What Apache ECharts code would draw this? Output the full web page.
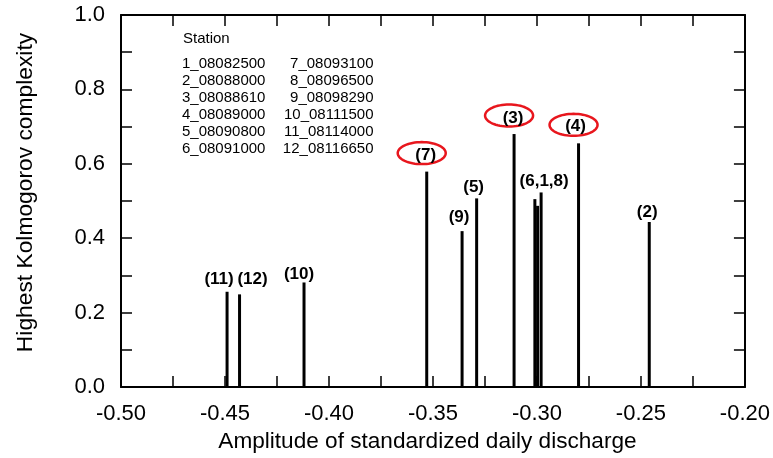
<!DOCTYPE html>
<html>
<head>
<meta charset="utf-8">
<script src="https://cdn.jsdelivr.net/npm/echarts@6/dist/echarts.min.js"></script>
<style>html,body{margin:0;padding:0;background:#fff;}#c{width:773px;height:458px;}</style>
</head>
<body>
<div id="c"></div>
<script>
// ---- data ----
const stations = ['1','2','3','4','5','6','7','8','9','10','11','12'];
const stationIds = ['08082500','08088000','08088610','08089000','08090800','08091000','08093100','08096500','08098290','08111500','08114000','08116650'];
const amplitude = [-0.2997,-0.246,-0.311,-0.280,-0.329,-0.301,-0.353,-0.298,-0.336,-0.412,-0.449,-0.443];
const complexity = [0.487,0.4435,0.680,0.655,0.507,0.505,0.579,0.523,0.419,0.281,0.256,0.249];
const barLabels = ['','(2)','(3)','(4)','(5)','','(7)','(6,1,8)','(9)','(10)','(11)','(12)'];
const circled = ['3','4','7'];
const xRange = {min:-0.5, max:-0.2, interval:0.05};
const yRange = {min:0, max:1, interval:0.2};
const xTitle = 'Amplitude of standardized daily discharge';
const yTitle = 'Highest Kolmogorov complexity';
const legendTitle = 'Station';

// ---- styles ----
const FONT = '"Liberation Sans", Arial, sans-serif';
const labelNudge = {'2':[-2,4],'3':[-1,-2],'4':[-3,-4],'5':[-3,2],'7':[-1,-3],'8':[3,2],'9':[-3,0],'10':[-5,5],'11':[-8,1],'12':[13,-2]};

const chart = echarts.init(document.getElementById('c'), null, {renderer:'canvas'});

const barData = stations.map((s,i) => {
  const txt = barLabels[i];
  return {
    value:[amplitude[i], complexity[i]],
    label:{show: txt !== '', formatter: txt, offset: labelNudge[s] || [0,0]}
  };
});
const ringData = circled.map(s => { const i = stations.indexOf(s); return [amplitude[i], complexity[i]]; });

const col1 = stations.slice(0,6).map((s,i)=> s + '_' + stationIds[i]).join('\n');
const col2 = stations.slice(6).map((s,i)=> s + '_' + stationIds[i+6]).join('\n');

const tickCommon = {show:true, inside:true, length:11, lineStyle:{color:'#000', width:1.5}};
const minorCommon = {show:true, splitNumber:2, length:11, lineStyle:{color:'#000', width:1.5}};
const lineCommon = {show:true, onZero:false, lineStyle:{color:'#000', width:2}};

chart.setOption({
  animation:false,
  backgroundColor:'#fff',
  grid:{left:121, right:27, top:15, bottom:71, containLabel:false},
  xAxis:[{
    type:'value', position:'bottom', min:xRange.min, max:xRange.max, interval:xRange.interval,
    axisLine:lineCommon, axisTick:tickCommon, minorTick:minorCommon, splitLine:{show:false},
    axisLabel:{color:'#000', fontSize:22, fontFamily:FONT, margin:16, formatter:v=>v.toFixed(2)},
    name:xTitle, nameLocation:'middle', nameGap:40,
    nameTextStyle:{color:'#000', fontSize:22.6, fontFamily:FONT, padding:[0,11,0,0]}
  },{
    type:'value', position:'top', min:xRange.min, max:xRange.max, interval:xRange.interval,
    axisLine:lineCommon, axisTick:tickCommon, minorTick:minorCommon, splitLine:{show:false},
    axisLabel:{show:false}
  }],
  yAxis:[{
    type:'value', position:'left', min:yRange.min, max:yRange.max, interval:yRange.interval,
    axisLine:lineCommon, axisTick:tickCommon, minorTick:minorCommon, splitLine:{show:false},
    axisLabel:{color:'#000', fontSize:22, fontFamily:FONT, margin:16, formatter:v=>v.toFixed(1)},
    name:yTitle, nameLocation:'middle', nameGap:84, nameRotate:90,
    nameTextStyle:{color:'#000', fontSize:22.8, fontFamily:FONT, padding:[0,0,0,17]}
  },{
    type:'value', position:'right', min:yRange.min, max:yRange.max, interval:yRange.interval,
    axisLine:lineCommon, axisTick:tickCommon, minorTick:minorCommon, splitLine:{show:false},
    axisLabel:{show:false}
  }],
  series:[{
    type:'bar', xAxisIndex:0, yAxisIndex:0, barWidth:3,
    itemStyle:{color:'#000'},
    label:{position:'top', distance:5, color:'#000', fontSize:17, fontWeight:'bold', fontFamily:FONT},
    data:barData
  },{
    type:'custom', xAxisIndex:0, yAxisIndex:0, silent:true,
    renderItem:(params, api) => {
      const p = api.coord([api.value(0), api.value(1)]);
      const cx = p[0]-5, cy = p[1]-18.5, rx = 24, ry = 11;
      const pts = [];
      for (let k=0;k<64;k++){ const a = k/64*Math.PI*2; pts.push([cx+rx*Math.cos(a), cy+ry*Math.sin(a)]); }
      return {type:'polygon', shape:{points:pts}, style:{fill:'none', stroke:'#e8161d', lineWidth:2.5}};
    },
    data:ringData
  }],
  graphic:[
    {type:'text', left:183, top:31, style:{text:legendTitle, fill:'#000', font:'15px '+FONT}},
    {type:'text', x:182, y:55, style:{text:col1, fill:'#000', font:'15px '+FONT, lineHeight:17, align:'left'}},
    {type:'text', x:373.5, y:55, style:{text:col2, fill:'#000', font:'15px '+FONT, lineHeight:17, align:'right'}}
  ]
});
</script>
</body>
</html>
